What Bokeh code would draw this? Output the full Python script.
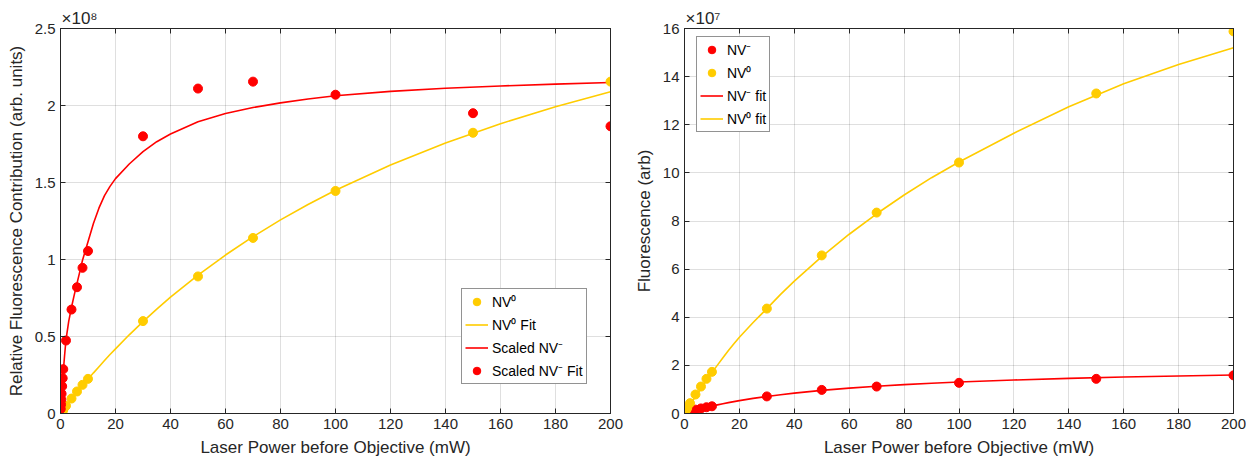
from bokeh.plotting import figure
from bokeh.layouts import row
from bokeh.models import FixedTicker, LinearAxis, Legend, LegendItem, Range1d
from bokeh.embed import file_html
from bokeh.resources import INLINE

# ---------------- data ----------------
# laser power of the measured points (mW)
power = [0.1, 0.2, 0.3, 0.4, 0.6, 0.8, 1, 2, 4, 6, 8, 10, 30, 50, 70, 100, 150, 200]

# left panel, in units of 1e8
left_nv0 = [0.003, 0.005, 0.008, 0.010, 0.014, 0.018, 0.023, 0.050, 0.097, 0.143,
            0.186, 0.225, 0.600, 0.890, 1.140, 1.445, 1.823, 2.155]
left_scaled_nvm = [0.030, 0.058, 0.090, 0.128, 0.177, 0.229, 0.288, 0.474, 0.675, 0.820,
                   0.946, 1.055, 1.800, 2.110, 2.155, 2.070, 1.950, 1.865]

# right panel, in units of 1e7
right_nvm = [0.010, 0.015, 0.020, 0.025, 0.035, 0.045, 0.055, 0.100, 0.160, 0.210,
             0.260, 0.300, 0.710, 0.980, 1.120, 1.275, 1.440, 1.585]
right_nv0 = [0.03, 0.06, 0.09, 0.12, 0.16, 0.20, 0.24, 0.43, 0.79, 1.12,
             1.44, 1.73, 4.36, 6.57, 8.35, 10.43, 13.30, 15.88]

# fitted curves
fit_power = [0, 0.5, 1, 1.5, 2, 3, 4, 5, 6, 7, 8, 9, 10, 12, 14, 16, 18, 20, 25, 30,
             35, 40, 50, 60, 70, 80, 90, 100, 120, 140, 160, 180, 200]
left_nv0_fit = [0, 0.012, 0.024, 0.035, 0.047, 0.070, 0.093, 0.115, 0.137, 0.159,
                0.180, 0.202, 0.223, 0.264, 0.304, 0.344, 0.383, 0.420, 0.511, 0.597,
                0.678, 0.756, 0.899, 1.029, 1.148, 1.257, 1.357, 1.450, 1.614, 1.757,
                1.882, 1.992, 2.089]
left_scaled_nvm_fit = [0, 0.14, 0.27, 0.38, 0.48, 0.60, 0.69, 0.77, 0.845, 0.92,
                       0.995, 1.055, 1.115, 1.235, 1.335, 1.415, 1.475, 1.525, 1.62, 1.70,
                       1.765, 1.815, 1.895, 1.948, 1.987, 2.017, 2.042, 2.063, 2.092, 2.112,
                       2.127, 2.139, 2.149]
right_nv0_fit = [0, 0.09, 0.18, 0.26, 0.35, 0.53, 0.70, 0.87, 1.04, 1.21,
                 1.38, 1.54, 1.70, 2.01, 2.32, 2.62, 2.90, 3.17, 3.78, 4.36,
                 4.95, 5.50, 6.52, 7.45, 8.30, 9.08, 9.80, 10.45, 11.65, 12.75,
                 13.70, 14.50, 15.20]
right_nvm_fit = [0, 0.018, 0.036, 0.053, 0.070, 0.103, 0.135, 0.166, 0.196, 0.225,
                 0.253, 0.280, 0.307, 0.358, 0.406, 0.451, 0.494, 0.535, 0.627, 0.709,
                 0.782, 0.848, 0.961, 1.054, 1.133, 1.200, 1.258, 1.308, 1.392, 1.459,
                 1.514, 1.559, 1.597]

x_ticks = [0, 20, 40, 60, 80, 100, 120, 140, 160, 180, 200]
left_y_ticks = [0, 0.5, 1, 1.5, 2, 2.5]
left_y_labels = ["0", "0.5", "1", "1.5", "2", "2.5"]
right_y_ticks = [0, 2, 4, 6, 8, 10, 12, 14, 16]

# ---------------- styles ----------------
RED = "#ff0000"
GOLD = "#ffcc00"
INK = "#262626"
FONT = "Liberation Sans"
H = 459


def style_axis(ax, ticks=None):
    ax.axis_line_color = INK
    ax.axis_line_width = 1
    ax.major_tick_line_color = INK
    ax.major_tick_in = 5
    ax.major_tick_out = 0
    ax.minor_tick_line_color = None
    ax.major_label_text_color = INK
    ax.major_label_text_font = FONT
    ax.axis_label_text_font = FONT
    ax.axis_label_text_color = INK
    ax.axis_label_text_font_style = "normal"
    ax.axis_label_text_font_size = "17px"
    ax.major_label_text_font_size = "15px"
    if ticks is None:
        ax.major_label_standoff = 5
        ax.axis_label_standoff = 6
    else:
        # box-side axis: ticks only, no visible labels
        ax.major_label_overrides = {t: "" for t in ticks}
        ax.major_label_standoff = 0
        ax.axis_label_standoff = 0


def make_fig(width, bl, br, ytop, yticks, ylabel, exponent):
    p = figure(width=width, height=H, x_range=Range1d(0, 200), y_range=Range1d(0, ytop),
               output_backend="svg", toolbar_location=None, title="×10" + exponent,
               min_border_left=bl, min_border_right=br, min_border_top=28, min_border_bottom=46)
    p.background_fill_color = "white"
    p.border_fill_color = "white"
    p.outline_line_color = INK
    p.outline_line_width = 1
    p.title.align = "left"
    p.title.offset = 1
    p.title.standoff = 1
    p.title.text_font = FONT
    p.title.text_font_size = "17px"
    p.title.text_font_style = "normal"
    p.title.text_color = INK
    xt = FixedTicker(ticks=x_ticks)
    yt = FixedTicker(ticks=yticks)
    p.xaxis.ticker = xt
    p.yaxis.ticker = yt
    p.xaxis.axis_label = "Laser Power before Objective (mW)"
    p.yaxis.axis_label = ylabel
    for ax in p.xaxis + p.yaxis:
        style_axis(ax)
    top = LinearAxis(ticker=xt)
    style_axis(top, ticks=x_ticks)
    right = LinearAxis(ticker=yt)
    style_axis(right, ticks=yticks)
    p.add_layout(top, "above")
    p.add_layout(right, "right")
    p.grid.grid_line_color = INK
    p.grid.grid_line_alpha = 0.15
    p.xgrid.ticker = xt
    p.ygrid.ticker = yt
    return p


# ---------------- left panel ----------------
p1 = make_fig(628, 60, 18, 2.5, left_y_ticks,
              "Relative Fluorescence Contribution (arb. units)", "⁸")
p1.yaxis[0].major_label_overrides = {t: s for t, s in zip(left_y_ticks, left_y_labels)}

l_nv0_fit = p1.line(fit_power, left_nv0_fit, line_color=GOLD, line_width=1.6)
l_nvm_fit = p1.line(fit_power, left_scaled_nvm_fit, line_color=RED, line_width=1.6)
s_nv0 = p1.scatter(power, left_nv0, size=9, fill_color=GOLD, line_color=GOLD)
s_nvm = p1.scatter(power, left_scaled_nvm, size=9, fill_color=RED, line_color=RED)

leg1 = Legend(items=[LegendItem(label="NV⁰", renderers=[s_nv0]),
                     LegendItem(label="NV⁰ Fit", renderers=[l_nv0_fit]),
                     LegendItem(label="Scaled NV⁻", renderers=[l_nvm_fit]),
                     LegendItem(label="Scaled NV⁻ Fit", renderers=[s_nvm])],
              location=(401, 29))
p1.add_layout(leg1, "center")

# ---------------- right panel ----------------
p2 = make_fig(618, 56, 13, 16, right_y_ticks, "Fluorescence (arb)", "⁷")

r_nvm_fit = p2.line(fit_power, right_nvm_fit, line_color=RED, line_width=1.6)
r_nv0_fit = p2.line(fit_power, right_nv0_fit, line_color=GOLD, line_width=1.6)
r_nvm = p2.scatter(power, right_nvm, size=9, fill_color=RED, line_color=RED)
r_nv0 = p2.scatter(power, right_nv0, size=9, fill_color=GOLD, line_color=GOLD)

leg2 = Legend(items=[LegendItem(label="NV⁻", renderers=[r_nvm]),
                     LegendItem(label="NV⁰", renderers=[r_nv0]),
                     LegendItem(label="NV⁻ fit", renderers=[r_nvm_fit]),
                     LegendItem(label="NV⁰ fit", renderers=[r_nv0_fit])],
              location=(12, 281))
p2.add_layout(leg2, "center")

for lg in (leg1, leg2):
    lg.margin = 0
    lg.padding = 3
    lg.spacing = 4
    lg.label_height = 19
    lg.glyph_height = 19
    lg.glyph_width = 23
    lg.label_standoff = 4
    lg.label_text_font = FONT
    lg.label_text_font_size = "14px"
    lg.label_text_color = "#000000"
    lg.border_line_color = INK
    lg.border_line_width = 1
    lg.background_fill_color = "white"
    lg.background_fill_alpha = 1

layout = row(p1, p2)
open("out.html", "w").write(file_html(layout, INLINE))
